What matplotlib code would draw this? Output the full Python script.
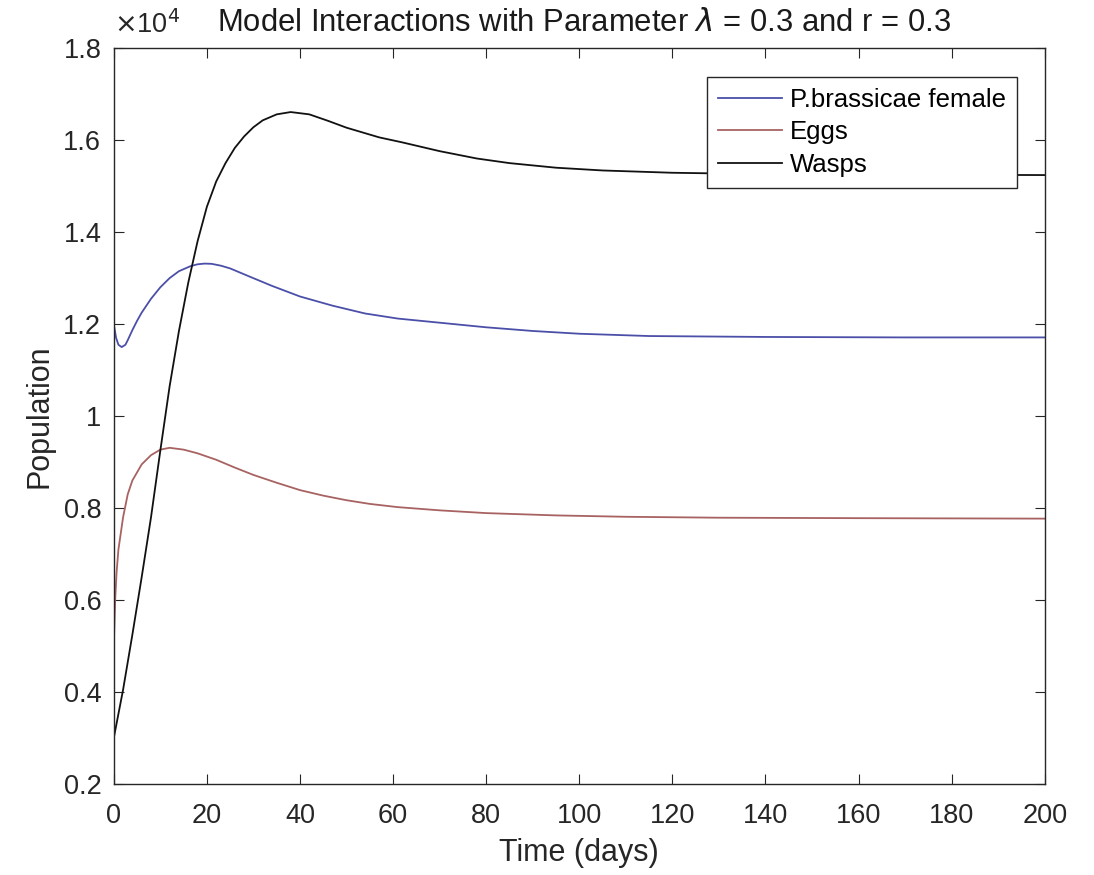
import matplotlib
matplotlib.use("Agg")
import matplotlib.pyplot as plt
from matplotlib.ticker import FuncFormatter, MultipleLocator

plt.rcParams['font.family'] = ['Liberation Sans', 'DejaVu Sans']
plt.rcParams['mathtext.fontset'] = 'dejavusans'

# Time (days) and population readings
t_wasps = [0, 2, 4, 6, 8, 10, 12, 14, 16, 18, 20, 22, 24, 26, 28, 30, 32, 35, 38,
           42, 46, 50, 57, 62, 70, 78, 85, 95, 105, 120, 140, 160, 180, 200]
wasps = [3000, 4050, 5250, 6500, 7800, 9250, 10650, 11850, 12900, 13800, 14550,
         15100, 15500, 15830, 16080, 16280, 16430, 16560, 16610, 16560, 16420,
         16270, 16060, 15950, 15760, 15600, 15500, 15400, 15340, 15290, 15260,
         15250, 15245, 15240]

t_female = [0, 0.5, 1, 1.7, 2.5, 3, 4, 5, 6, 8, 10, 12, 14, 16.5, 18, 19.5, 21,
            23, 25, 29, 34, 40, 47, 54, 61, 69, 80, 90, 100, 115, 140, 170, 200]
female = [12000, 11700, 11550, 11500, 11550, 11650, 11870, 12070, 12250, 12550,
          12800, 13000, 13150, 13260, 13300, 13315, 13310, 13270, 13210, 13040,
          12830, 12600, 12400, 12230, 12120, 12040, 11930, 11850, 11790, 11740,
          11720, 11710, 11710]

t_eggs = [0, 0.3, 0.6, 1, 2, 3, 4, 6, 8, 10, 12, 15, 18, 22, 26, 30, 35, 40, 45,
          50, 55, 61, 70, 80, 95, 110, 130, 160, 200]
eggs = [5000, 6000, 6600, 7100, 7800, 8300, 8600, 8950, 9150, 9270, 9310, 9270,
        9190, 9050, 8880, 8720, 8550, 8390, 8270, 8170, 8090, 8020, 7950, 7890,
        7840, 7810, 7790, 7780, 7770]

labels = ['P.brassicae female', 'Eggs', 'Wasps']
colors = ['#4b4fa8', '#a86262', '#111111']

fig = plt.figure(figsize=(10.94, 8.75), dpi=100)
ax = fig.add_axes([0.104, 0.104, 0.851, 0.841])

ax.plot(t_female, female, color=colors[0], lw=1.3, label=labels[0])
ax.plot(t_eggs, eggs, color=colors[1], lw=1.3, label=labels[1])
ax.plot(t_wasps, wasps, color=colors[2], lw=1.3, label=labels[2])

ax.set_xlim(0, 200)
ax.set_ylim(2000, 18000)
ax.xaxis.set_major_locator(MultipleLocator(20))
ax.yaxis.set_major_locator(MultipleLocator(2000))
ax.yaxis.set_major_formatter(FuncFormatter(lambda v, p: '%g' % round(v / 1e4, 3)))

ax.tick_params(direction='in', top=True, right=True, length=7, width=0.8,
               labelsize=19.5, colors='#262626')
ax.tick_params(axis='x', pad=14)
ax.tick_params(axis='y', pad=9)
for s in ax.spines.values():
    s.set_linewidth(1.0)
    s.set_color('#262626')

ax.set_xlabel('Time (days)', fontsize=22, color='#262626', labelpad=6)
ax.set_ylabel('Population', fontsize=22, color='#262626', labelpad=6)
ax.set_title(r'Model Interactions with Parameter $\lambda$ = 0.3 and r = 0.3',
             fontsize=22.3, color='#1a1a1a', pad=12, x=0.505)
ax.text(0.0, 1.012, r'$\times$10$^4$', transform=ax.transAxes, fontsize=19.5,
        color='#262626', ha='left', va='bottom')

leg = ax.legend(loc='upper right', bbox_to_anchor=(0.97, 0.961), fontsize=18.5,
                frameon=True, fancybox=False, edgecolor='#262626', framealpha=1.0,
                handlelength=2.5, handletextpad=0.3, borderpad=0.42,
                labelspacing=0.34, borderaxespad=0.0)
leg.get_frame().set_linewidth(1.0)

fig.savefig('out.png', dpi=100)
